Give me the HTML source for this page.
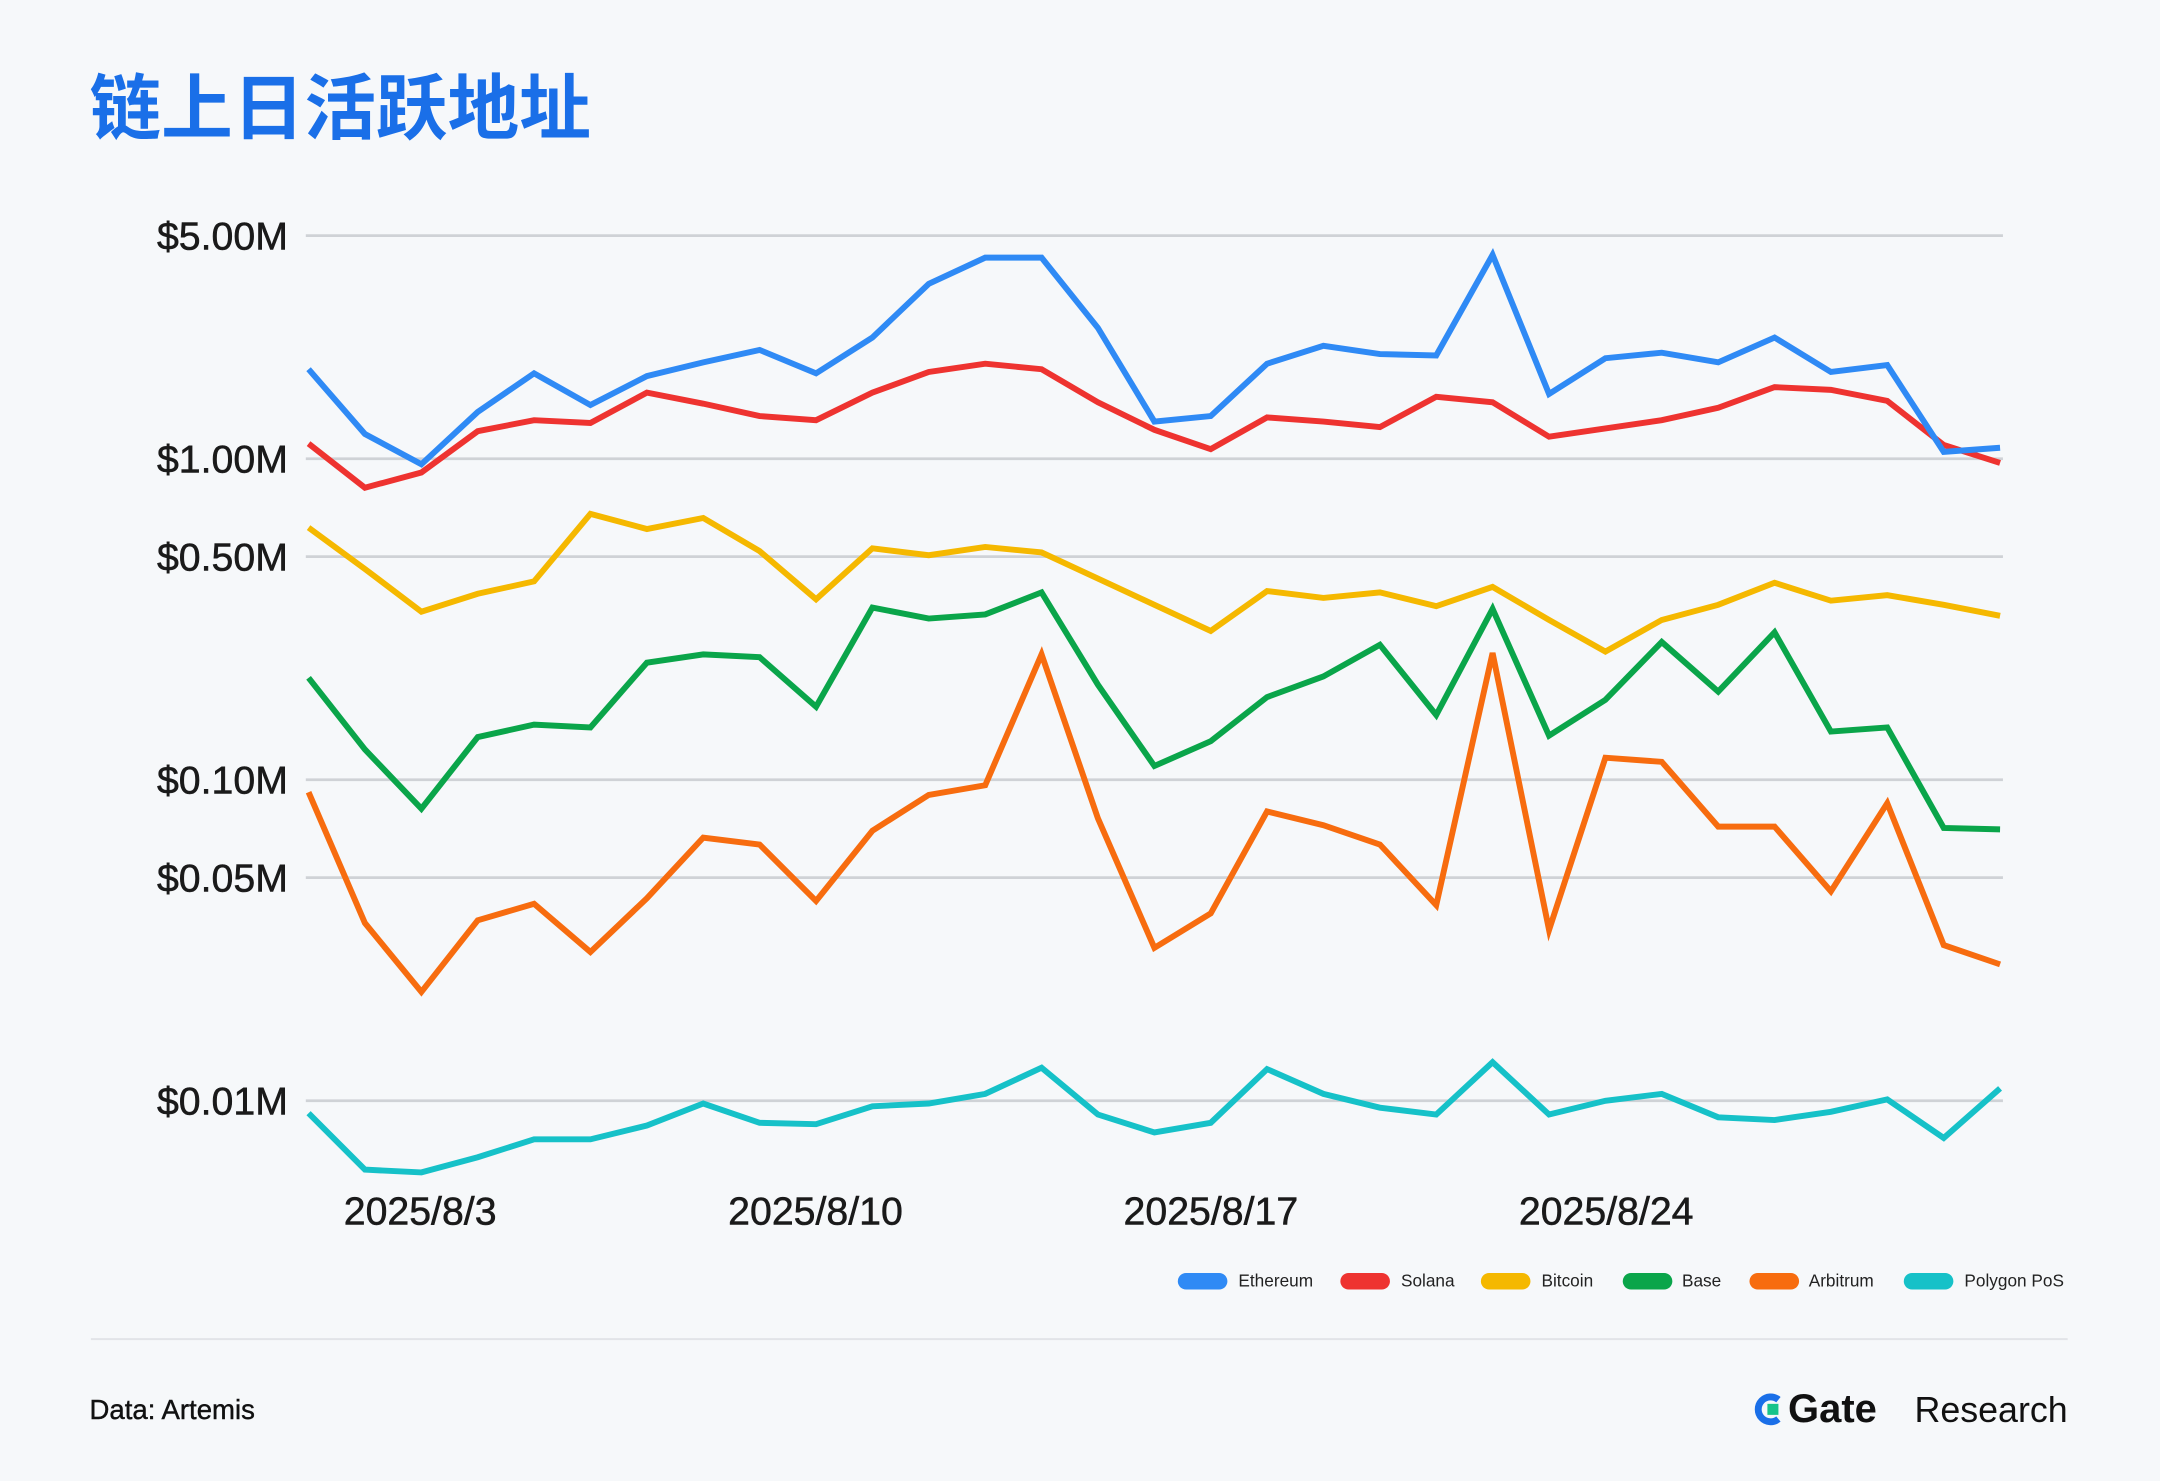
<!DOCTYPE html>
<html><head><meta charset="utf-8">
<style>
html,body{margin:0;padding:0;background:#f6f8fa;}
svg{display:block;}
</style></head>
<body>
<svg width="2160" height="1481" viewBox="0 0 1568 1075" preserveAspectRatio="none" xmlns="http://www.w3.org/2000/svg">
<rect x="0" y="0" width="1568" height="1075" fill="#f6f8fa"/>
<text x="65" y="97" font-family="'Liberation Sans','Noto Sans CJK SC',sans-serif" font-weight="bold" font-size="52" fill="#1a6fe8">链上日活跃地址</text>
<g stroke="#cfd2d6" stroke-width="2">
<line x1="222" y1="171" x2="1454" y2="171"/>
<line x1="222" y1="333" x2="1454" y2="333"/>
<line x1="222" y1="404" x2="1454" y2="404"/>
<line x1="222" y1="566" x2="1454" y2="566"/>
<line x1="222" y1="637" x2="1454" y2="637"/>
<line x1="222" y1="799" x2="1454" y2="799"/>
</g>
<g font-family="'Liberation Sans',sans-serif" font-size="28.5" fill="#1a1a1a" stroke="#1a1a1a" stroke-width="0.4" text-anchor="end">
<text x="209" y="181">$5.00M</text>
<text x="209" y="343">$1.00M</text>
<text x="209" y="414">$0.50M</text>
<text x="209" y="576">$0.10M</text>
<text x="209" y="647">$0.05M</text>
<text x="209" y="809">$0.01M</text>
</g>
<g font-family="'Liberation Sans',sans-serif" font-size="28.5" fill="#1a1a1a" stroke="#1a1a1a" stroke-width="0.4" text-anchor="middle">
<text x="305" y="889">2025/8/3</text>
<text x="592" y="889">2025/8/10</text>
<text x="879" y="889">2025/8/17</text>
<text x="1166" y="889">2025/8/24</text>
</g>
<g fill="none" stroke-width="4.3" stroke-linejoin="miter" stroke-linecap="butt" id="lines"></g>
<g font-family="'Liberation Sans',sans-serif" font-size="12.5" fill="#222">
<rect x="855" y="924" width="36" height="12" rx="6" fill="#2f8af5"/><text x="899" y="934">Ethereum</text>
<rect x="973" y="924" width="36" height="12" rx="6" fill="#ee3330"/><text x="1017" y="934">Solana</text>
<rect x="1075" y="924" width="36" height="12" rx="6" fill="#f5b800"/><text x="1119" y="934">Bitcoin</text>
<rect x="1178" y="924" width="36" height="12" rx="6" fill="#0aa54a"/><text x="1221" y="934">Base</text>
<rect x="1270" y="924" width="36" height="12" rx="6" fill="#f76c0f"/><text x="1313" y="934">Arbitrum</text>
<rect x="1382" y="924" width="36" height="12" rx="6" fill="#16c1c8"/><text x="1426" y="934">Polygon PoS</text>
</g>
<line x1="66" y1="972" x2="1501" y2="972" stroke="#e2e4e8" stroke-width="1.5"/>
<text x="65" y="1030" font-family="'Liberation Sans',sans-serif" font-size="20" fill="#111" stroke="#111" stroke-width="0.3">Data: Artemis</text>
<g>
<path d="M1291 1016 A9 9 0 1 0 1291 1030" fill="none" stroke="#1a6fe8" stroke-width="5"/>
<rect x="1283" y="1019" width="8" height="8" fill="#17c48a"/>
<text x="1298" y="1032" font-family="'Liberation Sans',sans-serif" font-size="29" font-weight="bold" fill="#111">Gate</text>
<text x="1501" y="1032" text-anchor="end" font-family="'Liberation Sans',sans-serif" font-size="26" fill="#111">Research</text>
</g>
</svg>
<script>
const d={
"#2f8af5":[268,315,337,299,271,294,273,263,254,271,245,206,187,187,238,306,302,264,251,257,258,185,286,260,256,263,245,270,265,328,325],
"#ee3330":[322,354,343,313,305,307,285,293,302,305,285,270,264,268,292,312,326,303,306,310,288,292,317,311,305,296,281,283,291,323,336],
"#f5b800":[383,413,444,431,422,373,384,376,400,435,398,403,397,401,420,439,458,429,434,430,440,426,450,473,450,439,423,436,432,439,447],
"#0aa54a":[492,544,587,535,526,528,481,475,477,513,441,449,446,430,497,556,538,506,491,468,519,442,534,508,466,502,459,531,528,601,602],
"#f76c0f":[575,670,720,668,656,691,652,608,613,654,603,577,570,475,594,688,663,589,599,613,657,474,675,550,553,600,600,647,583,686,700],
"#16c1c8":[808,849,851,840,827,827,817,801,815,816,803,801,794,775,809,822,815,776,794,804,809,771,809,799,794,811,813,807,798,826,790]};
const g=document.getElementById('lines');
const order=["#16c1c8","#f76c0f","#0aa54a","#f5b800","#ee3330","#2f8af5"];
for(const c of order){const p=document.createElementNS('http://www.w3.org/2000/svg','polyline');
p.setAttribute('points',d[c].map((y,i)=>(224+i*40.93).toFixed(1)+','+y).join(' '));
p.setAttribute('stroke',c);g.appendChild(p);}
</script>
</body></html>
